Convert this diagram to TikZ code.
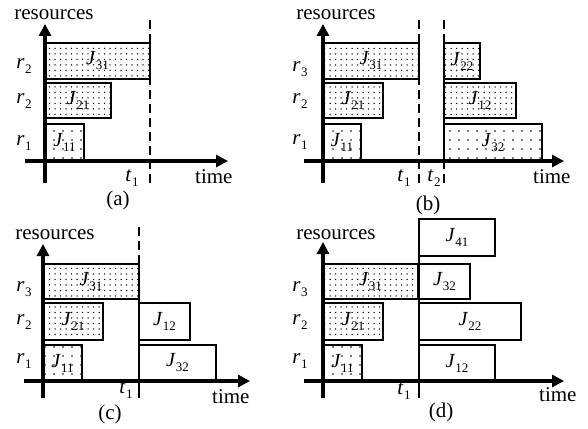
\documentclass[tikz,border=0pt]{standalone}
\usepackage{fontspec}
\setmainfont{Liberation Serif}
\usetikzlibrary{patterns.meta,arrows.meta}
\newcommand\lbl[2]{\textit{#1}\kern0.3pt\raisebox{-5pt}{\fontsize{13}{13}\selectfont #2}}
\tikzset{
 jobbox/.style={draw,line width=2.7pt,inner sep=0pt,outer sep=0pt,anchor=north west,font=\fontsize{20}{20}\selectfont},
 dense/.style={pattern={Dots[distance=5.5pt,radius=0.75pt]}},
 sparse/.style={pattern={Dots[distance=9pt,radius=0.8pt]}},
 plain/.style={},
 axis/.style={line width=3.5pt,-{Triangle[length=12pt,width=12pt]}},
 dline/.style={line width=2.2pt,dash pattern=on 9pt off 5pt},
 tline/.style={line width=2.7pt},
 txt/.style={font=\fontsize{21}{21}\selectfont,inner sep=0pt},
 rl/.style={font=\fontsize{21}{21}\selectfont,inner sep=0pt},
}
\newcommand\job[7]{\node[jobbox,#6,minimum width=#4pt,minimum height=#5pt] (#1) at (#2,#3) {#7};}
\begin{document}
\begin{tikzpicture}[x=1pt,y=-1pt]
\useasboundingbox (0,0) rectangle (588,428);
\fill[white] (0,0) rectangle (588,428);
% ---------- (a)
\job{a31}{45}{43}{105}{36}{dense}{\lbl{J}{31}}
\job{a21}{45}{83}{66}{35}{dense}{\lbl{J}{21}}
\job{a11}{45}{124}{39}{37}{sparse}{\lbl{J}{11}}
\coordinate (aYb) at (45,183); \coordinate (aYt) at (45,24);
\coordinate (aXl) at (25,161); \coordinate (aXr) at (228,161);
\draw[axis] (aYb) -- (aYt);
\draw[axis] (aXl) -- (aXr);
\coordinate (aT1t) at (150,20); \coordinate (aT1b) at (150,183);
\draw[dline] (aT1t) -- (aT1b);
\node[txt,anchor=base] (ares) at (54,20) {resources};
\node[txt,anchor=base west] (atime) at (195,183) {time};
\node[txt] (acap) at (118,200) {(a)};
\node[rl] (ar3) at (24,66) {\lbl{r}{2}};
\node[rl] (ar2) at (24,101) {\lbl{r}{2}};
\node[rl] (ar1) at (24,143) {\lbl{r}{1}};
\node[rl] (at1) at (132,178) {\lbl{t}{1}};
% ---------- (b)
\job{b31}{323}{43}{96}{36}{dense}{\lbl{J}{31}}
\job{b21}{323}{83}{60}{35}{dense}{\lbl{J}{21}}
\job{b11}{323}{124}{38}{37}{sparse}{\lbl{J}{11}}
\job{b22}{444}{43}{36}{36}{dense}{\lbl{J}{22}}
\job{b12}{444}{83}{72}{35}{dense}{\lbl{J}{12}}
\job{b32}{444}{124}{98}{37}{sparse}{\lbl{J}{32}}
\coordinate (bYb) at (323,183); \coordinate (bYt) at (323,24);
\coordinate (bXl) at (304,161); \coordinate (bXr) at (564,161);
\draw[axis] (bYb) -- (bYt);
\draw[axis] (bXl) -- (bXr);
\coordinate (bT1t) at (419,20); \coordinate (bT1b) at (419,183);
\coordinate (bT2t) at (444,20); \coordinate (bT2b) at (444,183);
\draw[dline] (bT1t) -- (bT1b);
\draw[dline] (bT2t) -- (bT2b);
\node[txt,anchor=base] (bres) at (336,20) {resources};
\node[txt,anchor=base west] (btime) at (533,183) {time};
\node[txt] (bcap) at (428,205) {(b)};
\node[rl] (br3) at (300,69) {\lbl{r}{3}};
\node[rl] (br2) at (300,101) {\lbl{r}{2}};
\node[rl] (br1) at (300,142) {\lbl{r}{1}};
\node[rl] (bt1) at (404,178) {\lbl{t}{1}};
\node[rl] (bt2) at (434,178) {\lbl{t}{2}};
% ---------- (c)
\job{c31}{43}{264}{96}{35}{dense}{\lbl{J}{31}}
\job{c21}{43}{303}{60}{37}{dense}{\lbl{J}{21}}
\job{c11}{43}{345}{39}{36}{sparse}{\lbl{J}{11}}
\job{c12}{139}{303}{51}{37}{plain}{\lbl{J}{12}}
\job{c32}{139}{345}{77}{36}{plain}{\lbl{J}{32}}
\coordinate (cYb) at (43,398); \coordinate (cYt) at (43,244);
\coordinate (cXl) at (24,381); \coordinate (cXr) at (250,381);
\draw[axis] (cYb) -- (cYt);
\draw[axis] (cXl) -- (cXr);
\coordinate (cT1t) at (139,227); \coordinate (cT1m) at (139,264); \coordinate (cT1b) at (139,398);
\draw[dline] (cT1t) -- (cT1m);
\draw[tline] (cT1m) -- (cT1b);
\node[txt,anchor=base] (cres) at (55,239) {resources};
\node[txt,anchor=base west] (ctime) at (212,403) {time};
\node[txt] (ccap) at (110,414) {(c)};
\node[rl] (cr3) at (24,289) {\lbl{r}{3}};
\node[rl] (cr2) at (24,322) {\lbl{r}{2}};
\node[rl] (cr1) at (24,361) {\lbl{r}{1}};
\node[rl] (ct1) at (126,390) {\lbl{t}{1}};
% ---------- (d)
\job{d31}{323}{264}{95}{35}{dense}{\lbl{J}{31}}
\job{d21}{323}{303}{60}{37}{dense}{\lbl{J}{21}}
\job{d11}{323}{345}{39}{36}{sparse}{\lbl{J}{11}}
\job{d41}{419}{219}{76}{37}{plain}{\lbl{J}{41}}
\job{d32}{419}{264}{51}{35}{plain}{\lbl{J}{32}}
\job{d22}{419}{303}{102}{37}{plain}{\lbl{J}{22}}
\job{d12}{419}{345}{76}{36}{plain}{\lbl{J}{12}}
\coordinate (dYb) at (323,398); \coordinate (dYt) at (323,242);
\coordinate (dXl) at (304,381); \coordinate (dXr) at (564,381);
\draw[axis] (dYb) -- (dYt);
\draw[axis] (dXl) -- (dXr);
\coordinate (dT1t) at (419,257); \coordinate (dT1b) at (419,398);
\draw[tline] (dT1t) -- (dT1b);
\node[txt,anchor=base] (dres) at (336,239) {resources};
\node[txt,anchor=base west] (dtime) at (539,401) {time};
\node[txt] (dcap) at (441,412) {(d)};
\node[rl] (dr3) at (300,289) {\lbl{r}{3}};
\node[rl] (dr2) at (300,322) {\lbl{r}{2}};
\node[rl] (dr1) at (300,361) {\lbl{r}{1}};
\node[rl] (dt1) at (404,391) {\lbl{t}{1}};
\end{tikzpicture}
\end{document}
